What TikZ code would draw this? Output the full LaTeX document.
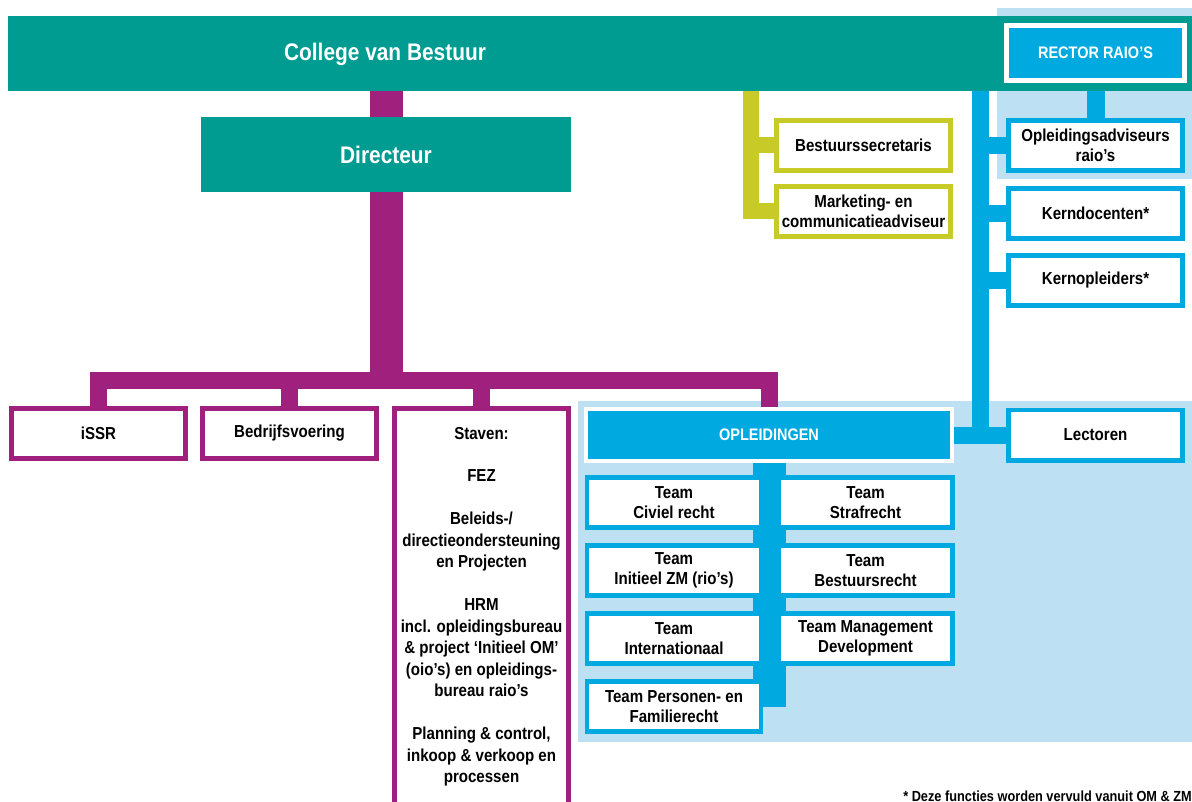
\documentclass[tikz,border=0pt]{standalone}
\usepackage{fontspec}
\setmainfont{Liberation Sans}[FakeStretch=0.87]
\usetikzlibrary{positioning}
\definecolor{cbteal}{RGB}{0,155,145}
\definecolor{cbpurple}{RGB}{160,32,125}
\definecolor{cbblue}{RGB}{0,170,225}
\definecolor{cblight}{RGB}{190,224,243}
\definecolor{cbolive}{RGB}{200,202,40}
\pgfdeclarelayer{bg}
\pgfsetlayers{bg,main}
\tikzset{orgbox/.style={rectangle,fill=white,line width=3.4pt,
inner sep=2pt,minimum width=130.85pt,minimum height=37.85pt,align=center,
font=\fontsize{13}{15}\selectfont\bfseries}}
\tikzset{purplebox/.style={orgbox,draw=cbpurple}}
\tikzset{olivebox/.style={orgbox,draw=cbolive}}
\tikzset{bluebox/.style={orgbox,draw=cbblue}}
\tikzset{teambox/.style={bluebox,minimum width=130.5pt}}
\tikzset{headbox/.style={rectangle,fill=cbteal,text=white,
inner sep=0pt,outer sep=0pt,font=\fontsize{18}{20}\selectfont\bfseries}}
\tikzset{capsbox/.style={rectangle,fill=cbblue,draw=white,text=white,
inner sep=2pt,align=center,font=\fontsize{12.5}{14}\selectfont\bfseries}}
\tikzset{purplelink/.style={draw=cbpurple,line width=12.75pt}}
\tikzset{purpletrunk/.style={draw=cbpurple,line width=24.75pt}}
\tikzset{bluelink/.style={draw=cbblue,line width=12.75pt}}
\tikzset{bluetrunk/.style={draw=cbblue,line width=24.75pt}}
\tikzset{olivelink/.style={draw=cbolive,line width=12pt}}

\begin{document}
\begin{tikzpicture}[x=0.75pt,y=-0.75pt]
    \useasboundingbox (0,0) rectangle (1192,802);

    % top of the chart
    \node[headbox,minimum width=888pt,minimum height=56.25pt] (cvb) at (600,53.5) {};
    \node[headbox,fill=none] (cvbtext) at (385,54) {College van Bestuur};
    \node[capsbox,line width=3.75pt,minimum width=133.5pt,minimum height=41.25pt] (rector) at (1095.5,53) {RECTOR RAIO'S};
    \node[headbox,minimum width=277.5pt,minimum height=56.25pt] (dir) at (386,154.5) {Directeur};

    \node[olivebox] (secr) at (863.5,145.5) {Bestuurssecretaris};
    \node[olivebox,below=8.25pt of secr] (mark) {Marketing- en\\communicatieadviseur};

    \node[bluebox] (adv) at (1095.5,145.5) {Opleidingsadviseurs\\raio's};
    \node[bluebox,below=9.75pt of adv] (kernd) {Kerndocenten*};
    \node[bluebox,below=9pt of kernd] (kerno) {Kernopleiders*};
    \node[bluebox] (lect) at (1095.5,435) {Lectoren};

    % purple row
    \node[purplebox] (issr) at (98.5,433.5) {iSSR};
    \node[purplebox,right=9pt of issr] (bedr) {Bedrijfsvoering};
    \node[purplebox,anchor=north,minimum height=297.35pt,font=\fontsize{13}{16.1}\selectfont\bfseries] (staven) at (481.5,406)
        {Staven:\\[16.1pt] FEZ\\[16.1pt] Beleids-/\\directieondersteuning\\en Projecten\\[16.1pt] HRM\\incl. opleidingsbureau\\\& project `Initieel OM'\\(oio's) en opleidings-\\bureau raio's\\[16.1pt] Planning \& control,\\inkoop \& verkoop en\\processen};

    % opleidingen and teams
    \node[capsbox,line width=3pt,minimum width=274.5pt,minimum height=39pt] (opl) at (769,435) {OPLEIDINGEN};
    \node[teambox] (tcr) at (674,502.5) {Team\\Civiel recht};
    \node[teambox,right=9.75pt of tcr] (tsr) {Team\\Strafrecht};
    \node[teambox,below=9.75pt of tcr] (tzm) {Team\\Initieel ZM (rio's)};
    \node[teambox,right=9.75pt of tzm] (tbr) {Team\\Bestuursrecht};
    \node[teambox,below=9.75pt of tzm] (tint) {Team\\Internationaal};
    \node[teambox,right=9.75pt of tint] (tmd) {Team Management\\Development};
    \node[teambox,below=9.75pt of tint] (tpf) {Team Personen- en\\Familierecht};

    \node[anchor=west,inner sep=0pt,font=\fontsize{11}{12}\selectfont\bfseries] (note) at (903,796) {* Deze functies worden vervuld vanuit OM \& ZM};

    \begin{pgfonlayer}{bg}
        \fill[cblight] (997,8) rectangle (1192,179);
        \fill[cblight] (578,401) rectangle (1192,742);

        \coordinate (hub) at (0,380.5);
        \coordinate (hubbot) at (0,389);
        \draw[purpletrunk] (cvb.south -| dir.north) -- (dir.north);
        \draw[purpletrunk] (dir.south) -- (dir.south |- hubbot);
        \draw[purplelink] (issr.north) |- (opl.north |- hub) -- (opl.north);
        \draw[purplelink] (bedr.north) -- (bedr.north |- hub);
        \draw[purplelink] (staven.north) -- (staven.north |- hub);

        \coordinate (olivetop) at (750.5,91);
        \draw[olivelink] (olivetop) |- (mark.west);
        \draw[olivelink] (secr.west) -- (secr.west -| olivetop);

        \coordinate (bluetop) at (980.5,91);
        \draw[bluelink] (bluetop) |- (lect.west);
        \draw[bluelink] (opl.east) -- (lect.west);
        \foreach \n in {adv,kernd,kerno}
            \draw[bluelink] (\n.west) -- (\n.west -| bluetop);
        \draw[bluelink,line width=13.5pt] (rector.south) -- (adv.north);
        \draw[bluetrunk] (opl.south) -- (opl.south |- tpf.east);
    \end{pgfonlayer}

\end{tikzpicture}
\end{document}
